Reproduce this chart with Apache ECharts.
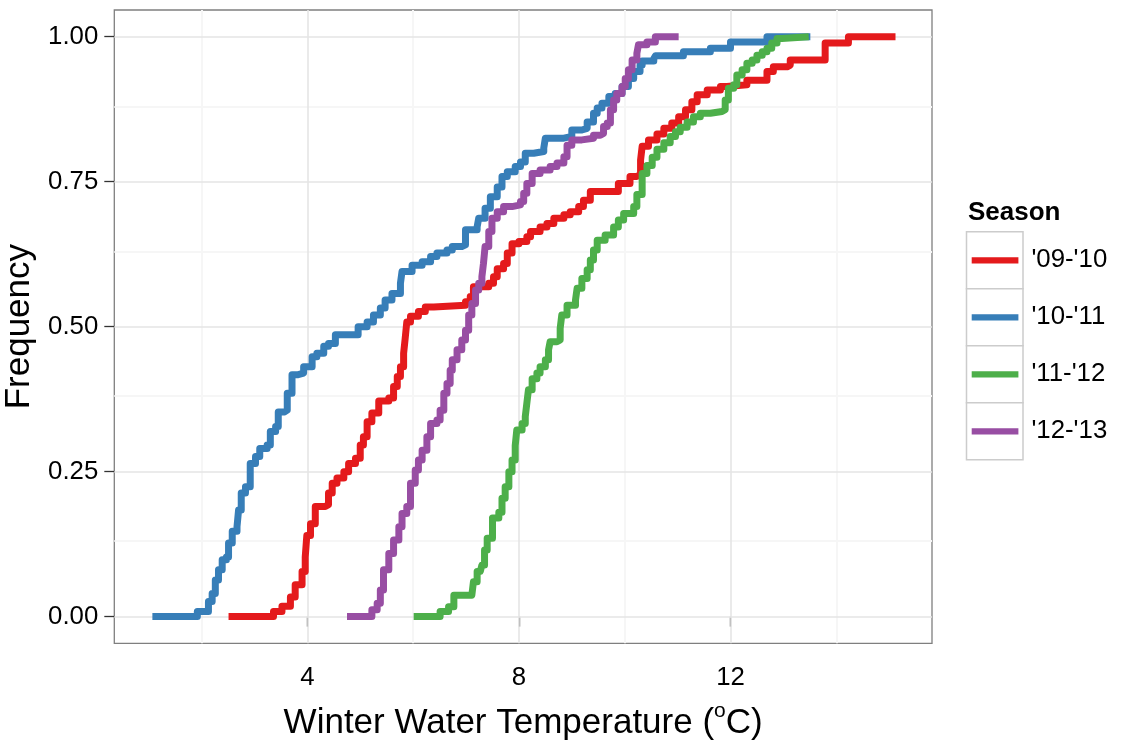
<!DOCTYPE html>
<html>
<head>
<meta charset="utf-8">
<script src="https://cdn.jsdelivr.net/npm/echarts@6/dist/echarts.min.js"></script>
<style>
  html, body { margin: 0; padding: 0; background: #ffffff; }
  #chart { width: 1125px; height: 742px; }
</style>
</head>
<body>
<div id="chart"></div>
<script>
// Empirical cumulative distribution of winter water temperature, one curve per season.
// Each pair is [temperature (°C), cumulative frequency reached at that temperature].
const seasons = ["'09-'10", "'10-'11", "'11-'12", "'12-'13"];
const seasonColors = ['#E41A1C', '#377EB8', '#4DAF4A', '#984EA3'];

const ecdf0910 = [
  [2.51,0],[3.36,0.009],[3.52,0.018],[3.68,0.034],[3.77,0.055],[3.90,0.078],[3.96,0.103],[3.99,0.140],
  [4.06,0.160],[4.15,0.190],[4.34,0.193],[4.40,0.213],[4.47,0.230],[4.56,0.239],[4.69,0.250],[4.78,0.264],
  [4.91,0.273],[5.00,0.296],[5.06,0.310],[5.13,0.336],[5.22,0.351],[5.35,0.372],[5.54,0.377],[5.63,0.397],
  [5.70,0.414],[5.76,0.431],[5.82,0.454],[5.85,0.480],[5.88,0.508],[5.95,0.518],[6.10,0.526],[6.23,0.534],
  [6.39,0.537],[6.99,0.543],[7.08,0.552],[7.14,0.569],[7.43,0.575],[7.52,0.586],[7.59,0.600],[7.71,0.609],
  [7.78,0.627],[7.87,0.643],[8.00,0.647],[8.15,0.655],[8.22,0.664],[8.40,0.672],[8.53,0.678],[8.66,0.687],
  [8.85,0.693],[8.97,0.698],[9.13,0.707],[9.22,0.718],[9.35,0.733],[9.88,0.747],[10.10,0.759],[10.23,0.762],
  [10.30,0.787],[10.33,0.811],[10.45,0.822],[10.61,0.832],[10.74,0.842],[10.89,0.851],[11.02,0.862],[11.15,0.874],
  [11.27,0.888],[11.37,0.900],[11.56,0.908],[11.81,0.914],[11.93,0.917],[12.31,0.925],[12.69,0.940],[12.81,0.948],
  [13.07,0.951],[13.13,0.960],[13.79,0.989],[14.23,1.0],[15.12,1.0]
];

const ecdf1011 = [
  [1.07,0],[1.92,0.009],[2.13,0.026],[2.20,0.040],[2.26,0.063],[2.32,0.081],[2.39,0.098],[2.47,0.103],
  [2.51,0.127],[2.58,0.147],[2.67,0.155],[2.70,0.184],[2.75,0.213],[2.83,0.224],[2.92,0.264],[3.02,0.276],
  [3.10,0.290],[3.24,0.296],[3.30,0.319],[3.40,0.328],[3.45,0.353],[3.57,0.356],[3.62,0.385],[3.71,0.417],
  [3.81,0.420],[3.93,0.431],[4.09,0.448],[4.18,0.454],[4.31,0.466],[4.40,0.471],[4.53,0.486],[4.96,0.500],
  [5.13,0.508],[5.25,0.520],[5.38,0.532],[5.47,0.546],[5.60,0.557],[5.76,0.575],[5.79,0.595],[5.98,0.606],
  [6.17,0.612],[6.33,0.621],[6.45,0.627],[6.64,0.632],[6.74,0.638],[6.92,0.641],[6.99,0.667],[7.21,0.672],
  [7.24,0.687],[7.36,0.704],[7.46,0.724],[7.59,0.741],[7.68,0.759],[7.78,0.767],[7.93,0.776],[8.03,0.784],
  [8.12,0.799],[8.28,0.802],[8.47,0.808],[8.50,0.825],[8.85,0.828],[9.00,0.839],[9.19,0.842],[9.29,0.853],
  [9.41,0.868],[9.48,0.877],[9.57,0.885],[9.70,0.897],[9.82,0.902],[9.95,0.914],[10.07,0.928],[10.17,0.940],
  [10.29,0.951],[10.33,0.958],[10.55,0.962],[10.58,0.967],[11.11,0.974],[11.62,0.980],[12.00,0.991],[12.69,1.0],
  [13.51,1.0]
];

const ecdf1112 = [
  [6.01,0],[6.51,0.009],[6.67,0.017],[6.77,0.037],[7.11,0.040],[7.14,0.060],[7.21,0.078],[7.27,0.081],
  [7.30,0.089],[7.35,0.115],[7.40,0.135],[7.50,0.170],[7.62,0.180],[7.68,0.204],[7.74,0.224],[7.81,0.250],
  [7.87,0.270],[7.93,0.295],[7.96,0.322],[8.06,0.333],[8.12,0.345],[8.15,0.368],[8.18,0.391],[8.25,0.410],
  [8.34,0.420],[8.40,0.431],[8.50,0.443],[8.56,0.460],[8.59,0.474],[8.72,0.477],[8.78,0.497],[8.81,0.520],
  [8.91,0.537],[9.07,0.546],[9.10,0.566],[9.19,0.583],[9.29,0.598],[9.35,0.615],[9.41,0.632],[9.48,0.649],
  [9.63,0.658],[9.79,0.672],[9.88,0.684],[9.98,0.695],[10.17,0.707],[10.23,0.728],[10.33,0.764],[10.42,0.778],
  [10.52,0.792],[10.61,0.806],[10.74,0.817],[10.86,0.828],[10.96,0.836],[11.05,0.844],[11.18,0.853],[11.30,0.862],
  [11.43,0.868],[11.62,0.871],[11.84,0.874],[11.90,0.891],[11.96,0.911],[12.06,0.917],[12.12,0.934],[12.22,0.943],
  [12.31,0.954],[12.41,0.960],[12.50,0.968],[12.60,0.974],[12.69,0.980],[12.78,0.989],[12.88,0.997],[12.97,1.0],
  [13.48,1.0]
];

const ecdf1213 = [
  [4.75,0],[5.22,0.012],[5.32,0.023],[5.38,0.046],[5.44,0.081],[5.54,0.109],[5.63,0.132],[5.73,0.155],
  [5.79,0.178],[5.88,0.190],[5.95,0.230],[6.04,0.253],[6.10,0.270],[6.17,0.287],[6.26,0.310],[6.33,0.333],
  [6.45,0.339],[6.51,0.356],[6.58,0.385],[6.64,0.402],[6.70,0.425],[6.74,0.443],[6.83,0.460],[6.92,0.477],
  [6.99,0.494],[7.05,0.520],[7.11,0.540],[7.18,0.563],[7.24,0.575],[7.30,0.586],[7.33,0.609],[7.36,0.638],
  [7.43,0.664],[7.49,0.687],[7.59,0.698],[7.71,0.707],[7.87,0.710],[8.03,0.716],[8.09,0.730],[8.15,0.747],
  [8.25,0.764],[8.40,0.770],[8.59,0.776],[8.72,0.782],[8.85,0.793],[8.91,0.813],[9.00,0.822],[9.19,0.825],
  [9.41,0.830],[9.54,0.833],[9.60,0.845],[9.67,0.851],[9.73,0.874],[9.79,0.891],[9.85,0.902],[9.95,0.914],
  [10.01,0.928],[10.07,0.943],[10.14,0.960],[10.23,0.971],[10.26,0.986],[10.42,0.991],[10.58,1.0],[11.02,1.0]
];

const seasonData = [ecdf0910, ecdf1011, ecdf1112, ecdf1213];

// Axis ticks and grid positions
const xTicks = [4, 8, 12];
const xMinorGrid = [2, 6, 10, 14];
const yTicks = [0, 0.25, 0.5, 0.75, 1];
const yMinorGrid = [0.125, 0.375, 0.625, 0.875];

const FONT = "'Liberation Sans', Arial, Helvetica, sans-serif";
const majorGrid = { color: '#E5E5E5', width: 1.6, type: 'solid' };
const minorGrid = { color: '#F6F6F6', width: 2, type: 'solid' };

const gridLines = []
  .concat(xMinorGrid.map(v => ({ xAxis: v, lineStyle: minorGrid })))
  .concat(yMinorGrid.map(v => ({ yAxis: v, lineStyle: minorGrid })))
  .concat(xTicks.map(v => ({ xAxis: v, lineStyle: majorGrid })))
  .concat(yTicks.map(v => ({ yAxis: v, lineStyle: majorGrid })));

const chart = echarts.init(document.getElementById('chart'), null, { renderer: 'canvas' });

const option = {
  animation: false,
  backgroundColor: '#ffffff',
  grid: {
    left: 114.3, right: 193, top: 10, bottom: 98.7,
    outerBoundsMode: 'none',
    containLabel: false,
    show: true, borderColor: '#7F7F7F', borderWidth: 1.3, backgroundColor: 'transparent'
  },
  xAxis: {
    type: 'value',
    min: 0.35, max: 15.81,
    axisLine: { show: false },
    splitLine: { show: false },
    axisTick: { show: true, customValues: xTicks, length: 10, lineStyle: { color: '#333333', width: 1.3 } },
    axisLabel: { customValues: xTicks, fontSize: 25.8, color: '#000', fontFamily: FONT, margin: 22 },
    name: '{t|Winter Water Temperature (}{s|o}{t|C)}',
    nameLocation: 'middle',
    nameGap: 32,
    nameTextStyle: {
      rich: {
        t: { fontSize: 35, fontFamily: FONT, color: '#000', lineHeight: 35, padding: [10, 0, 0, 0] },
        s: { fontSize: 21, fontFamily: FONT, color: '#000', lineHeight: 21, verticalAlign: 'top' }
      }
    }
  },
  yAxis: {
    type: 'value',
    min: -0.046, max: 1.046,
    axisLine: { show: false },
    splitLine: { show: false },
    axisTick: { show: true, customValues: yTicks, length: 10, lineStyle: { color: '#333333', width: 1.3 } },
    axisLabel: {
      customValues: yTicks, fontSize: 25.8, color: '#000', fontFamily: FONT, margin: 16,
      formatter: v => v.toFixed(2)
    },
    name: 'Frequency',
    nameLocation: 'middle',
    nameGap: 68,
    nameTextStyle: { fontSize: 35, fontFamily: FONT, color: '#000' }
  },
  legend: {
    orient: 'vertical',
    left: 971.7, top: 231.7,
    padding: 0, itemGap: 0,
    itemWidth: 46.7, itemHeight: 57,
    icon: 'path://M0 0L0 57M0 25.6L46.7 25.6L46.7 31.9L0 31.9Z',
    itemStyle: { borderWidth: 0 },
    selectedMode: false,
    data: seasons,
    textStyle: { fontSize: 25.8, color: '#000', fontFamily: FONT, padding: [8, 0, 0, 8] }
  },
  graphic: {
    elements: [
      { type: 'text', left: 968, top: 200, z: 10,
        style: { text: 'Season', font: 'bold 26px ' + FONT, fill: '#000' } }
    ].concat(seasons.map((s, i) => ({
      type: 'rect', z: 1, silent: true,
      shape: { x: 966.5, y: 231.7 + 57 * i, width: 56.5, height: 57 },
      style: { fill: '#ffffff', stroke: '#CCCCCC', lineWidth: 1.5 }
    })))
  },
  series: [
    {
      name: 'grid', type: 'line', data: [], silent: true, z: 1,
      markLine: {
        silent: true, z: 1, animation: false,
        symbol: ['none', 'none'],
        label: { show: false },
        emphasis: { disabled: true },
        lineStyle: { type: 'solid' },
        data: gridLines
      }
    }
  ].concat(seasons.map((name, i) => ({
    name: name,
    type: 'line',
    step: 'end',
    data: seasonData[i],
    showSymbol: false,
    symbol: 'none',
    z: 3,
    itemStyle: { color: seasonColors[i] },
    lineStyle: { color: seasonColors[i], width: 7, join: 'round', cap: 'butt' },
    emphasis: { disabled: true }
  })))
};

chart.setOption(option);
</script>
</body>
</html>
